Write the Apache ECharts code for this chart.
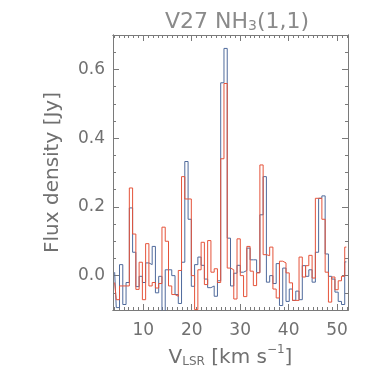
<!DOCTYPE html>
<html>
<head>
<meta charset="utf-8">
<script src="https://cdn.jsdelivr.net/npm/echarts@6/dist/echarts.min.js"></script>
<style>
  html, body { margin: 0; padding: 0; background: #fff; }
  #chart { width: 382px; height: 382px; }
</style>
</head>
<body>
<div id="chart"></div>
<script>
// channel centres, km/s
var velocity = [4.09, 4.76, 5.43, 6.11, 6.78, 7.46, 8.13, 8.80, 9.48, 10.15, 10.82, 11.50,
  12.17, 12.84, 13.52, 14.19, 14.87, 15.54, 16.21, 16.89, 17.56, 18.23, 18.91, 19.58,
  20.25, 20.93, 21.60, 22.27, 22.95, 23.62, 24.30, 24.97, 25.64, 26.32, 26.99, 27.66,
  28.34, 29.01, 29.68, 30.36, 31.03, 31.71, 32.38, 33.05, 33.73, 34.40, 35.07, 35.75,
  36.42, 37.09, 37.77, 38.44, 39.12, 39.79, 40.46, 41.14, 41.81, 42.48, 43.16, 43.83,
  44.50, 45.18, 45.85, 46.52, 47.20, 47.87, 48.55, 49.22, 49.89, 50.57, 51.24, 51.91];

// flux density, Jy
var fluxBlue = [0.01, -0.093, 0.032, -0.084, -0.02, 0.197, 0.068, -0.032, -0.002, -0.02, 0.037, 0.032,
  0.085, -0.05, -0.002, -0.12, 0.017, 0.017, 0.0, -0.055, -0.081, 0.039, 0.332, 0.164,
  -0.031, 0.032, 0.054, 0.03, -0.01, -0.035, -0.03, -0.06, -0.015, 0.561, 0.661, 0.109,
  -0.03, 0.007, 0.03, 0.01, 0.015, 0.08, 0.046, 0.046, 0.009, 0.177, 0.288, -0.019,
  0.0, -0.023, 0.035, -0.087, 0.022, -0.075, -0.039, -0.072, -0.045, -0.07, 0.029, -0.002,
  0.017, -0.019, 0.068, 0.225, 0.232, 0.063, -0.002, -0.01, -0.048, -0.075, -0.084, 0.04];

var fluxRed = [-0.02, -0.07, -0.03, -0.03, -0.03, 0.255, 0.121, -0.04, 0.039, -0.07, 0.093, -0.03,
  -0.02, -0.036, -0.023, 0.141, 0.1, -0.03, -0.055, -0.06, 0.015, 0.288, 0.223, 0.223,
  0.0, -0.099, 0.017, 0.097, -0.026, 0.102, 0.01, 0.02, -0.02, 0.34, 0.559, 0.022,
  0.017, -0.068, 0.107, 0.0, -0.061, 0.085, 0.013, -0.029, 0.008, 0.322, 0.061, 0.058,
  0.083, -0.039, -0.065, 0.042, 0.037, 0.008, -0.021, -0.072, -0.072, 0.054, -0.004, 0.029,
  0.059, -0.007, 0.225, 0.225, 0.164, 0.01, -0.077, -0.004, -0.041, -0.015, -0.002, 0.083];

var xMajor = [10, 20, 30, 40, 50];
var xMinor = [4, 5, 6, 7, 8, 9, 10, 11, 12, 13, 14, 15, 16, 17, 18, 19, 20, 21, 22, 23, 24, 25,
  26, 27, 28, 29, 30, 31, 32, 33, 34, 35, 36, 37, 38, 39, 40, 41, 42, 43, 44, 45, 46, 47,
  48, 49, 50, 51, 52];
var yMajor = [0, 0.2, 0.4, 0.6];

var axisColor = '#7a7a7a';
var textColor = '#707070';
var font = 'DejaVu Sans';

function pairs(xs, ys) {
  return xs.map(function (x, i) { return [x, ys[i]]; });
}

function xAx(pos, ticks, len, labels) {
  return {
    type: 'value', position: pos, min: 3.75, max: 52.25,
    axisLine: { show: true, onZero: false, lineStyle: { color: axisColor, width: 1 } },
    axisTick: { show: true, inside: true, length: len, customValues: ticks,
      lineStyle: { color: axisColor, width: 1 } },
    axisLabel: labels ? { show: true, customValues: xMajor, color: textColor,
      fontFamily: font, fontSize: 17, margin: 12 } : { show: false },
    splitLine: { show: false }
  };
}

function yAx(pos, major, labels) {
  var ax = {
    type: 'value', position: pos, min: -0.1, max: 0.7, interval: 0.05,
    axisLine: { show: true, onZero: false, lineStyle: { color: axisColor, width: 1 } },
    axisTick: { show: true, inside: true, length: major ? 6 : 3,
      lineStyle: { color: axisColor, width: 1 } },
    axisLabel: labels ? { show: true, customValues: yMajor, color: textColor,
      fontFamily: font, fontSize: 17, margin: 8,
      formatter: function (v) { return v.toFixed(1); } } : { show: false },
    splitLine: { show: false }
  };
  if (major) ax.axisTick.customValues = yMajor;
  return ax;
}

var xAxes = [xAx('bottom', xMinor, 3, true), xAx('bottom', xMajor, 6, false),
             xAx('top', xMinor, 3, false), xAx('top', xMajor, 6, false)];
xAxes[0].name = '{a|V}{s|LSR}{a| [km s}{p|−1}{a|]}';
xAxes[0].nameLocation = 'middle';
xAxes[0].nameGap = 34;
xAxes[0].nameTextStyle = {
  color: textColor, fontFamily: font, fontSize: 20,
  rich: {
    a: { fontFamily: font, fontSize: 20, color: textColor, lineHeight: 24, verticalAlign: 'bottom' },
    s: { fontFamily: font, fontSize: 12, color: textColor, lineHeight: 12, verticalAlign: 'bottom' },
    p: { fontFamily: font, fontSize: 12, color: textColor, lineHeight: 12, verticalAlign: 'top' }
  }
};

var yAxes = [yAx('left', false, true), yAx('left', true, false),
             yAx('right', false, false), yAx('right', true, false)];
yAxes[0].name = 'Flux density [Jy]';
yAxes[0].nameLocation = 'middle';
yAxes[0].nameGap = 50;
yAxes[0].nameTextStyle = { color: textColor, fontFamily: font, fontSize: 20 };

var option = {
  animation: false,
  backgroundColor: '#ffffff',
  title: {
    text: '{a|V27 NH}{s|3}{a|(1,1)}',
    left: 232, top: 2, textAlign: 'center',
    textStyle: {
      color: '#8a8a8a', fontFamily: font, fontSize: 22, fontWeight: 'normal',
      rich: {
        a: { fontFamily: font, fontSize: 22, fontWeight: 'normal', color: '#8a8a8a',
          lineHeight: 26, verticalAlign: 'bottom' },
        s: { fontFamily: font, fontSize: 14, fontWeight: 'normal', color: '#8a8a8a',
          lineHeight: 12, verticalAlign: 'bottom' }
      }
    }
  },
  grid: { left: 113, right: 34, top: 35, bottom: 72 },
  xAxis: xAxes,
  yAxis: yAxes,
  series: [
    {
      name: 'blue', type: 'line', step: 'middle', xAxisIndex: 0, yAxisIndex: 0,
      data: pairs(velocity, fluxBlue), showSymbol: false, clip: true,
      lineStyle: { color: '#4f6a9c', width: 1 }
    },
    {
      name: 'red', type: 'line', step: 'middle', xAxisIndex: 0, yAxisIndex: 0,
      data: pairs(velocity, fluxRed), showSymbol: false, clip: true,
      lineStyle: { color: '#e5533a', width: 1 }
    }
  ]
};

var chart = echarts.init(document.getElementById('chart'));
chart.setOption(option);
</script>
</body>
</html>
